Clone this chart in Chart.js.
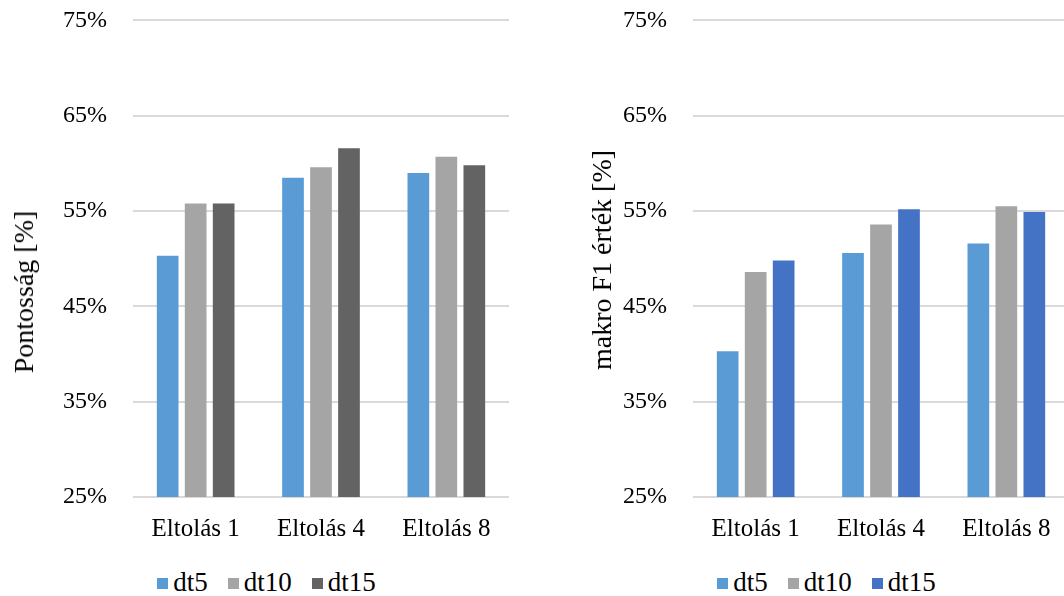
<!DOCTYPE html>
<html>
<head>
<meta charset="utf-8">
<script src="https://cdn.jsdelivr.net/npm/chart.js@4.4.1/dist/chart.umd.min.js"></script>
<style>
  html, body { margin: 0; padding: 0; background: #fff; width: 1064px; height: 596px; overflow: hidden; }
  .panel { position: absolute; top: 0; width: 533px; height: 596px; }
  #panelAcc { left: 0; }
  #panelF1 { left: 560px; }
  .panel canvas { position: absolute; left: 0; top: -20px; }
  .ytitle {
    position: absolute; white-space: nowrap; color: #000; line-height: 1;
    font: 28px "Liberation Serif", "Times New Roman", serif;
    transform: translate(-50%, -50%) rotate(-90deg);
  }
  .legend {
    position: absolute; left: 0; top: 566px; width: 533px; height: 32px;
    display: flex; justify-content: center; align-items: center;
    font: 27px "Liberation Serif", "Times New Roman", serif; color: #000;
  }
  .legend .item { display: flex; align-items: center; margin: 0 10px; }
  .legend .box { width: 11px; height: 11px; margin-right: 5px; margin-top: 2px; }
</style>
</head>
<body>
<div class="panel" id="panelAcc">
  <canvas id="chartAcc" width="533" height="580"></canvas>
  <div class="ytitle" id="titleAcc"></div>
  <div class="legend" id="legendAcc"></div>
</div>
<div class="panel" id="panelF1">
  <canvas id="chartF1" width="533" height="580"></canvas>
  <div class="ytitle" id="titleF1"></div>
  <div class="legend" id="legendF1"></div>
</div>
<script>
// Categories and series
const categories = ['Eltolás 1', 'Eltolás 4', 'Eltolás 8'];
const seriesNames = ['dt5', 'dt10', 'dt15'];

// Accuracy (%)
const accDt5  = [50.3, 58.5, 59.0];
const accDt10 = [55.8, 59.6, 60.7];
const accDt15 = [55.8, 61.6, 59.8];

// Macro F1 (%)
const f1Dt5  = [40.3, 50.6, 51.6];
const f1Dt10 = [48.6, 53.6, 55.5];
const f1Dt15 = [49.8, 55.2, 54.9];

// Value axis ticks (%)
const yTicks = [25, 35, 45, 55, 65, 75];

const FONT = "'Liberation Serif', 'Times New Roman', serif";
const colorsAcc = ['#5B9BD5', '#A5A5A5', '#636363'];
const colorsF1  = ['#5B9BD5', '#A5A5A5', '#4472C4'];

function makeChart(canvasId, seriesValues, colors) {
  const datasets = seriesValues.map((vals, i) => ({
    label: seriesNames[i],
    data: vals,
    backgroundColor: colors[i],
    borderWidth: 0,
    categoryPercentage: 0.67,
    barPercentage: 0.775
  }));
  return new Chart(document.getElementById(canvasId), {
    type: 'bar',
    data: { labels: categories, datasets },
    options: {
      responsive: false,
      animation: false,
      layout: { autoPadding: false, padding: { top: 0, left: 0, right: 24, bottom: 0 } },
      plugins: { legend: { display: false }, tooltip: { enabled: false } },
      scales: {
        x: {
          grid: { display: false },
          border: { display: false },
          ticks: { color: '#000', font: { family: FONT, size: 25 }, padding: 9, maxRotation: 0 },
          afterFit: s => { s.height = 63; }
        },
        y: {
          min: yTicks[0],
          max: yTicks[yTicks.length - 1],
          afterBuildTicks: s => { s.ticks = yTicks.map(v => ({ value: v })); },
          grid: { color: '#D9D9D9', lineWidth: 2, drawTicks: false },
          border: { display: false },
          ticks: { color: '#000', font: { family: FONT, size: 24 }, padding: 26, callback: v => v + '%' },
          afterFit: s => { s.width = 133; }
        }
      }
    }
  });
}

function makeLegend(el, chart) {
  chart.data.datasets.forEach(ds => {
    const item = document.createElement('div');
    item.className = 'item';
    const box = document.createElement('span');
    box.className = 'box';
    box.style.background = ds.backgroundColor;
    const txt = document.createElement('span');
    txt.textContent = ds.label;
    item.appendChild(box);
    item.appendChild(txt);
    el.appendChild(item);
  });
}

function placeTitle(el, text, cx, cy) {
  el.textContent = text;
  el.style.left = cx + 'px';
  el.style.top = cy + 'px';
}

const chartAcc = makeChart('chartAcc', [accDt5, accDt10, accDt15], colorsAcc);
const chartF1  = makeChart('chartF1',  [f1Dt5, f1Dt10, f1Dt15], colorsF1);
makeLegend(document.getElementById('legendAcc'), chartAcc);
makeLegend(document.getElementById('legendF1'), chartF1);
placeTitle(document.getElementById('titleAcc'), 'Pontosság [%]', 24, 292);
placeTitle(document.getElementById('titleF1'), 'makro F1 érték [%]', 42, 260);
</script>
</body>
</html>
